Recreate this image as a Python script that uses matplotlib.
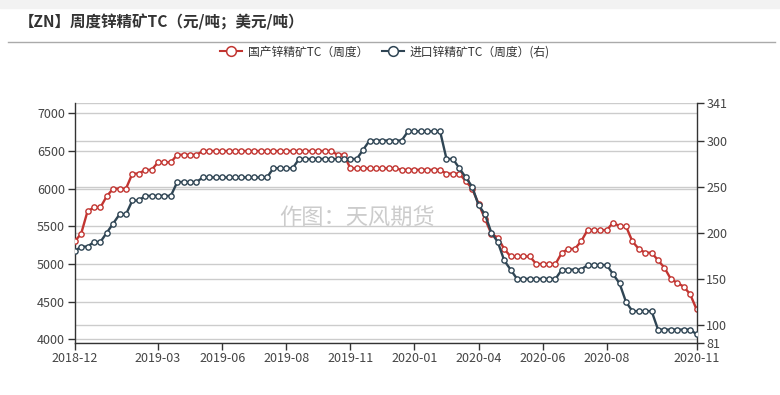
import numpy as np
import matplotlib.pyplot as plt
from matplotlib.lines import Line2D
from matplotlib.patches import Rectangle

plt.rcParams['font.family'] = ['Noto Sans CJK SC', 'DejaVu Sans']

# 国产锌精矿TC（元/吨），周度
domestic_tc = [5300, 5400, 5700, 5750, 5750, 5900, 6000, 6000, 6000, 6200,
               6200, 6250, 6250, 6350, 6350, 6350, 6450, 6450, 6450, 6450,
               6500, 6500, 6500, 6500, 6500, 6500, 6500, 6500, 6500, 6500,
               6500, 6500, 6500, 6500, 6500, 6500, 6500, 6500, 6500, 6500,
               6500, 6450, 6450, 6270, 6270, 6270, 6270, 6270, 6270, 6270,
               6270, 6250, 6250, 6250, 6250, 6250, 6250, 6250, 6200, 6200,
               6200, 6100, 6000, 5800, 5600, 5400, 5350, 5200, 5100, 5100,
               5100, 5100, 5000, 5000, 5000, 5000, 5150, 5200, 5200, 5300,
               5450, 5450, 5450, 5450, 5550, 5500, 5500, 5300, 5200, 5150,
               5150, 5050, 4950, 4800, 4750, 4700, 4600, 4400]

# 进口锌精矿TC（美元/吨），周度，右轴
import_tc = [180, 185, 185, 190, 190, 200, 210, 220, 220, 235,
             235, 240, 240, 240, 240, 240, 255, 255, 255, 255,
             260, 260, 260, 260, 260, 260, 260, 260, 260, 260,
             260, 270, 270, 270, 270, 280, 280, 280, 280, 280,
             280, 280, 280, 280, 280, 290, 300, 300, 300, 300,
             300, 300, 310, 310, 310, 310, 310, 310, 280, 280,
             270, 260, 250, 230, 220, 200, 190, 170, 160, 150,
             150, 150, 150, 150, 150, 150, 160, 160, 160, 160,
             165, 165, 165, 165, 155, 145, 125, 115, 115, 115,
             115, 95, 95, 95, 95, 95, 95, 90]

tick_labels = ['2018-12', '2019-03', '2019-06', '2019-08', '2019-11',
               '2020-01', '2020-04', '2020-06', '2020-08', '2020-11']
tick_idx = [0, 13, 23, 33, 43, 53, 63, 73, 83, 97]

left_ticks = [4000, 4500, 5000, 5500, 6000, 6500, 7000]
right_ticks = [81, 100, 150, 200, 250, 300, 341]

c_red = '#c23531'
c_blue = '#2f4554'
c_grid = '#cccccc'
c_txt = '#444444'

W, H = 780, 395
fig = plt.figure(figsize=(W / 100, H / 100), dpi=100)

# top strip and title
fig.patches.append(Rectangle((0, 1 - 8 / H), 1, 8 / H, transform=fig.transFigure,
                             color='#f2f2f2', zorder=0))
fig.text(19 / W, 1 - 22 / H, '【ZN】周度锌精矿TC（元/吨；美元/吨）', fontsize=11.2,
         fontweight='bold', color='#333333', ha='left', va='center')
fig.add_artist(Line2D([8 / W, 775 / W], [1 - 42.3 / H] * 2, transform=fig.transFigure,
                      color='#aaaaaa', lw=1))

left, right, top, bottom = 74.7, 696.5, 102.7, 342.5
ax = fig.add_axes([left / W, (H - bottom) / H, (right - left) / W, (bottom - top) / H])
ax2 = ax.twinx()
ax.set_zorder(ax2.get_zorder() - 1)
ax2.patch.set_visible(False)

x = np.arange(len(domestic_tc))
ylo, yhi = 3958, 7141
rlo, rhi = 81, 341
ax.set_ylim(ylo, yhi)
ax2.set_ylim(rlo, rhi)
ax.set_xlim(0, len(x) - 1)

# gridlines for both axes, all on the bottom layer
for v in left_ticks:
    ax.axhline(v, color=c_grid, lw=1, zorder=1)
for v in right_ticks:
    yl = ylo + (v - rlo) / (rhi - rlo) * (yhi - ylo)
    ax.axhline(yl, color=c_grid, lw=1, zorder=1)

ax.plot(x, domestic_tc, color=c_red, lw=1.7, marker='o', ms=3.8, mfc='white',
        mec=c_red, mew=1, zorder=3)
ax2.plot(x, import_tc, color=c_blue, lw=1.7, marker='o', ms=3.8, mfc='white',
         mec=c_blue, mew=1, zorder=3)

ax.set_yticks(left_ticks)
ax2.set_yticks(right_ticks)
ax.set_xticks(tick_idx)
ax.set_xticklabels(tick_labels)

for a in (ax, ax2):
    a.spines['top'].set_visible(False)
    for s in ('left', 'right', 'bottom'):
        a.spines[s].set_color('#333333')
        a.spines[s].set_linewidth(1)
    a.tick_params(length=5, width=1, color='#333333', labelsize=9,
                  labelcolor=c_txt, pad=2)
ax.spines['right'].set_visible(False)
ax2.spines['left'].set_visible(False)
ax2.spines['bottom'].set_visible(False)

# watermark
fig.text(357 / W, 1 - 218 / H, '作图：天风期货', fontsize=16, color='#cccccc',
         ha='center', va='center')

handles = [Line2D([], [], color=c_red, lw=1.5, marker='o', ms=7, mfc='white',
                  mec=c_red, mew=1.1),
           Line2D([], [], color=c_blue, lw=1.5, marker='o', ms=7, mfc='white',
                  mec=c_blue, mew=1.1)]
fig.legend(handles, ['国产锌精矿TC（周度）', '进口锌精矿TC（周度）(右)'], loc='center',
           bbox_to_anchor=(385 / W, 1 - 52 / H), ncol=2, frameon=False, fontsize=8.5,
           handlelength=1.9, handletextpad=0.5, columnspacing=1.1, labelcolor='#333333')

fig.savefig('out.png', dpi=100, facecolor='white')
